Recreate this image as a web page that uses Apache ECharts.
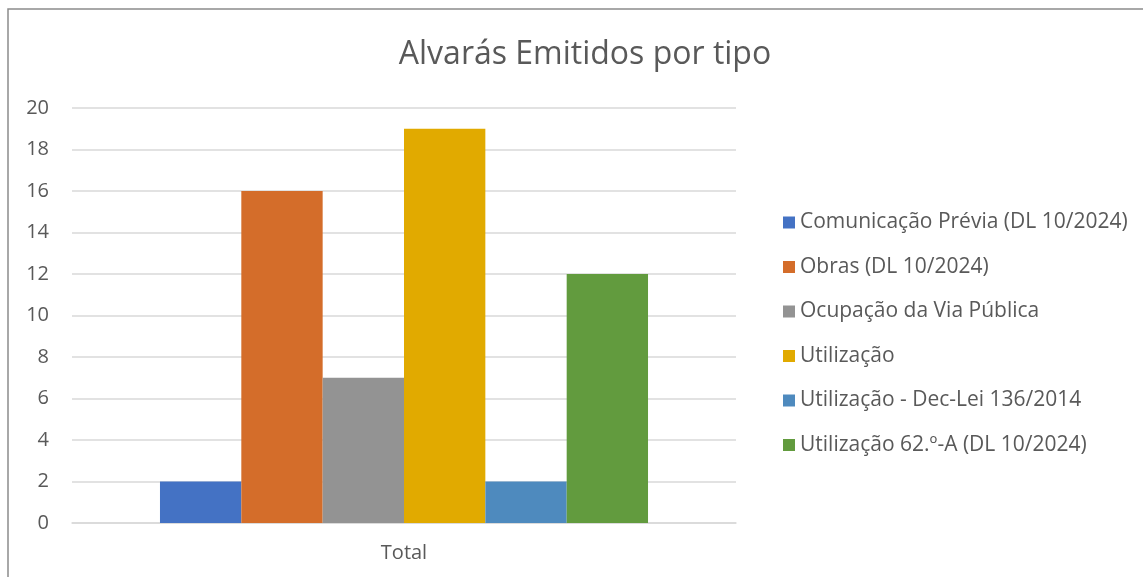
<!DOCTYPE html>
<html>
<head>
<meta charset="utf-8">
<script src="https://cdn.jsdelivr.net/npm/echarts@6/dist/echarts.min.js"></script>
<style>
  html, body { margin: 0; padding: 0; background: #fff; }
  #chart { width: 1143px; height: 577px; }
</style>
</head>
<body>
<div id="chart"></div>
<script>
const categories = ['Total'];
const seriesNames = [
    'Comunicação Prévia (DL 10/2024)',
    'Obras (DL 10/2024)',
    'Ocupação da Via Pública',
    'Utilização',
    'Utilização - Dec-Lei 136/2014',
    'Utilização 62.º-A (DL 10/2024)'
];
const seriesValues = [2, 16, 7, 19, 2, 12];
const seriesColors = ['#4472C4', '#D46D2A', '#939393', '#E1AA00', '#4E8ABE', '#629B3E'];
const yTicks = { min: 0, max: 20, interval: 2 };

const font = '"Open Sans", "Noto Sans", sans-serif';
const chart = echarts.init(document.getElementById('chart'));

chart.setOption({
    animation: false,
    textStyle: { fontFamily: font },
    title: {
        text: 'Alvarás Emitidos por tipo',
        left: 580, top: 34, textAlign: 'center',
        textStyle: { fontSize: 32, fontWeight: 'normal', color: '#595959', fontFamily: font }
    },
    graphic: [{
        type: 'rect',
        shape: { x: 8, y: 9, width: 1200, height: 700 },
        style: { fill: 'none', stroke: '#8c8c8c', lineWidth: 1.5 },
        silent: true
    }],
    legend: {
        orient: 'vertical',
        left: 778, top: 207,
        itemWidth: 12, itemHeight: 12, itemGap: 23.5,
        icon: 'rect',
        data: seriesNames,
        textStyle: { fontSize: 21, color: '#595959', fontFamily: font }
    },
    grid: { left: 72, right: 407, top: 108, bottom: 54 },
    xAxis: {
        type: 'category',
        data: categories,
        axisLine: { lineStyle: { color: '#d9d9d9', width: 1.5 } },
        axisTick: { show: false },
        axisLabel: { fontSize: 20, color: '#595959', margin: 20 }
    },
    yAxis: {
        type: 'value',
        min: yTicks.min, max: yTicks.max, interval: yTicks.interval,
        axisLine: { show: false },
        axisTick: { show: false },
        axisLabel: { fontSize: 20, color: '#595959', margin: 23 },
        splitLine: { lineStyle: { color: '#d9d9d9', width: 1.5 } }
    },
    series: seriesNames.map((name, i) => ({
        name: name,
        type: 'bar',
        data: [seriesValues[i]],
        barGap: '0%',
        barCategoryGap: '26.5%',
        itemStyle: { color: seriesColors[i] }
    }))
});
</script>
</body>
</html>
